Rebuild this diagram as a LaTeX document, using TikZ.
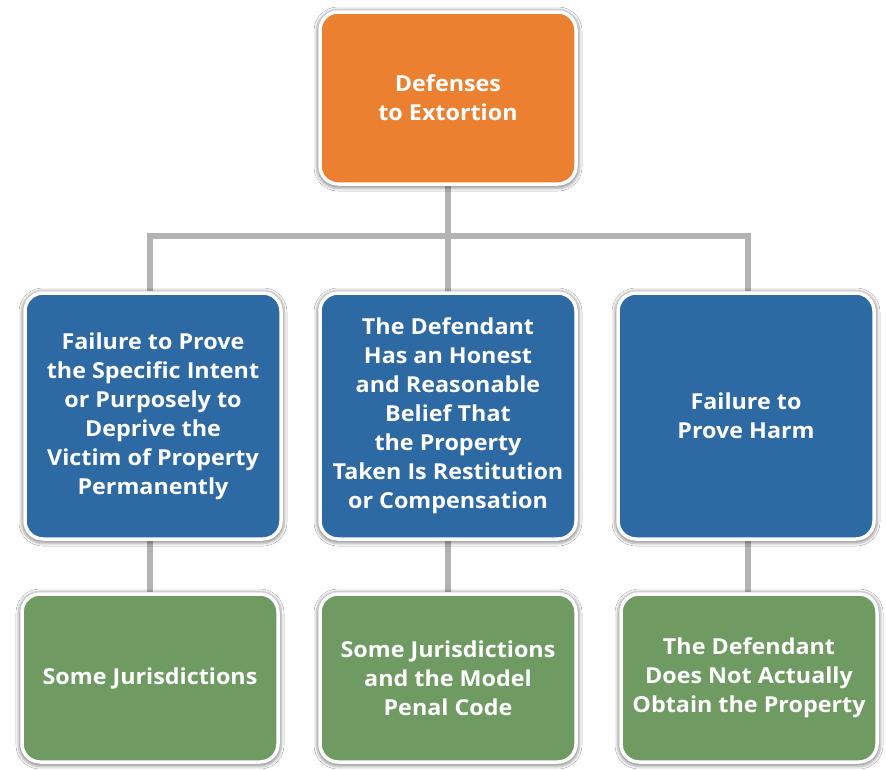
\documentclass[tikz,border=0pt]{standalone}
\usepackage{fontspec}
\setmainfont[FakeStretch=1.06]{Open Sans}
\usetikzlibrary{shadows.blur,backgrounds}
\definecolor{orng}{HTML}{EB8130}
\definecolor{blu}{HTML}{2D69A2}
\definecolor{grn}{HTML}{6F9B63}
\definecolor{conn}{HTML}{B3B3B3}
\begin{document}
\begin{tikzpicture}[x=1pt,y=-1pt,
  box/.style={draw=white, line width=3.5pt, rounded corners=18pt,
    minimum width=256pt, minimum height=#1, text=white, align=center,
    font=\fontsize{22}{29}\selectfont\bfseries,
    blur shadow={shadow xshift=0pt, shadow yshift=-1pt, shadow blur radius=6pt, shadow opacity=100}},
  link/.style={draw=conn, line width=5.5pt}]
\useasboundingbox (0,0) rectangle (886,769);
\node[box=172pt, fill=orng] (top) at (448,98) {Defenses\\to Extortion};
\node[box=246pt, fill=blu] (b1) at (153,416) {Failure to Prove\\the Specific Intent\\or Purposely to\\Deprive the\\Victim of Property\\Permanently};
\node[box=246pt, fill=blu] (b2) at (448,416) {The Defendant\\Has an Honest\\and Reasonable\\Belief That\\the Property\\Taken Is Restitution\\or Compensation};
\node[box=246pt, fill=blu] (b3) at (746,416) {Failure to\\Prove Harm};
\node[box=168pt, fill=grn] (g1) at (150,678) {Some Jurisdictions};
\node[box=168pt, fill=grn] (g2) at (448,678) {Some Jurisdictions\\and the Model\\Penal Code};
\node[box=168pt, fill=grn] (g3) at (749,678) {The Defendant\\Does Not Actually\\Obtain the Property};
\coordinate (hl) at (150,236);
\coordinate (hr) at (748,236);
\coordinate (hm) at (448,236);
\begin{scope}[on background layer]
\fill[white] (0,0) rectangle (886,769);
\draw[link] (top) -- (hm);
\draw[link] (hl |- b1.north) -- (hl) -- (hr) -- (hr |- b3.north);
\draw[link] (hm) -- (b2);
\draw[link] (hl |- b1.south) -- (hl |- g1.north);
\draw[link] (b2) -- (g2);
\draw[link] (hr |- b3.south) -- (hr |- g3.north);
\end{scope}
\end{tikzpicture}
\end{document}
